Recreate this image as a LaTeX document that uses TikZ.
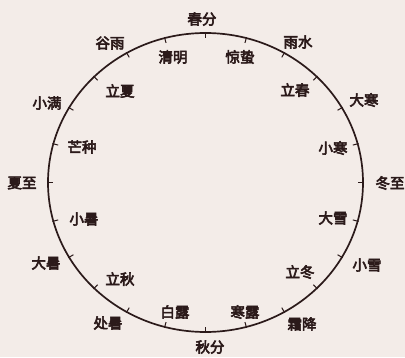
\documentclass[tikz,border=0pt]{standalone}
\usepackage{fontspec}
\usetikzlibrary{calc}
\newfontfamily\cjk{Noto Sans CJK SC}[FakeBold=4]
\definecolor{bgc}{HTML}{F3ECE8}
\definecolor{inkc}{HTML}{2B1A1A}
\begin{document}
\begin{tikzpicture}[x=1pt,y=1pt,
  lbl/.style={font=\cjk\fontsize{14.5}{15}\selectfont, text=inkc, inner sep=0pt},
  rim/.style={draw=inkc, line width=1.7pt},
  tk/.style={draw=inkc, line width=1pt}]
\fill[bgc] (0,0) rectangle (405,357);
\useasboundingbox (0,0) rectangle (405,357);
\coordinate (c) at (205.5,174.5);
\draw[rim] (c) ellipse [x radius=157.5, y radius=149.5];
\foreach \a in {0,15,...,345}{
  \draw[tk] ($(c)+({158.5*cos(\a)},{150.5*sin(\a)})$) -- ($(c)+({152.5*cos(\a)},{144.5*sin(\a)})$);
}
% outer labels
\node[lbl] (chunfen)   at (202,338) {春分};
\node[lbl] (yushui)    at (298,315) {雨水};
\node[lbl] (dahan)     at (364,257) {大寒};
\node[lbl] (dongzhi)   at (390,174) {冬至};
\node[lbl] (xiaoxue)   at (367,92)  {小雪};
\node[lbl] (shuangjiang) at (302,33) {霜降};
\node[lbl] (qiufen)    at (210,10)  {秋分};
\node[lbl] (chushu)    at (108,34)  {处暑};
\node[lbl] (dashu)     at (46,94)   {大暑};
\node[lbl] (xiazhi)    at (22,174)  {夏至};
\node[lbl] (xiaoman)   at (47,254)  {小满};
\node[lbl] (guyu)      at (110,314) {谷雨};
% inner labels
\node[lbl] (jingzhe)   at (240,300) {惊蛰};
\node[lbl] (qingming)  at (173,300) {清明};
\node[lbl] (lichun)    at (295,267) {立春};
\node[lbl] (xiaohan)   at (333,209) {小寒};
\node[lbl] (daxue)     at (333,139) {大雪};
\node[lbl] (lidong)    at (300,85)  {立冬};
\node[lbl] (hanlu)     at (245,45)  {寒露};
\node[lbl] (bailu)     at (175,45)  {白露};
\node[lbl] (liqiu)     at (120,78)  {立秋};
\node[lbl] (xiaoshu)   at (84,138)  {小暑};
\node[lbl] (mangzhong) at (82,210)  {芒种};
\node[lbl] (lixia)     at (120,266) {立夏};
\end{tikzpicture}
\end{document}
